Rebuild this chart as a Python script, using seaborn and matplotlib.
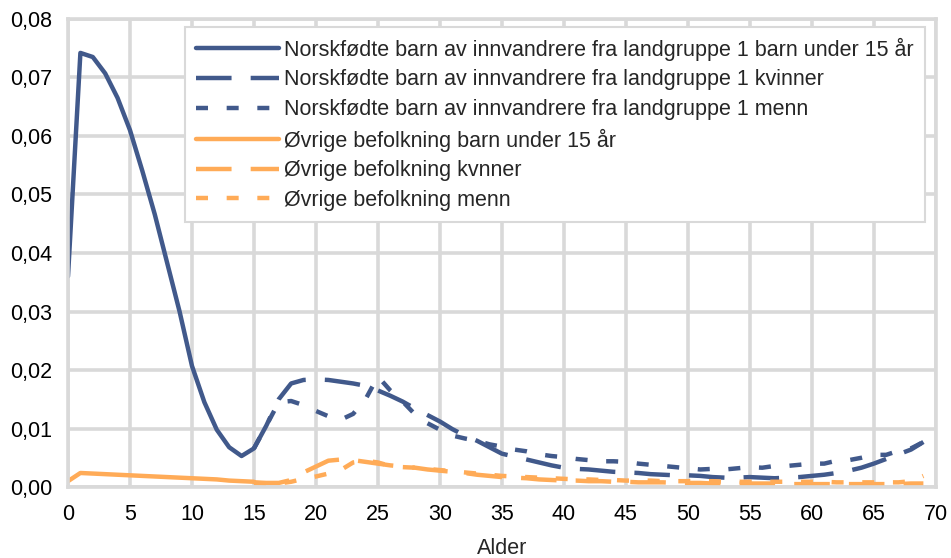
import seaborn as sns
import matplotlib
matplotlib.use("Agg")
import matplotlib.pyplot as plt
from matplotlib.ticker import FuncFormatter, MultipleLocator
import pandas as pd

# ages
alder_barn = list(range(0, 16))
alder_voksen = list(range(15, 70))

# Norskfødte barn av innvandrere fra landgruppe 1
blaa_barn = [0.0360, 0.0742, 0.0735, 0.0707, 0.0665, 0.0610, 0.0540, 0.0466, 0.0383, 0.0300,
             0.0207, 0.0145, 0.0098, 0.0068, 0.0053, 0.0066]
blaa_kvinner = [0.0066, 0.0105, 0.0150, 0.0177, 0.0183, 0.0184, 0.0183, 0.0180, 0.0177, 0.0173,
                0.0165, 0.0156, 0.0146, 0.0134, 0.0123, 0.0112, 0.0099, 0.0088, 0.0079, 0.0068,
                0.0057, 0.0052, 0.0047, 0.0042, 0.0037, 0.0033, 0.0031, 0.0030, 0.0028, 0.0026,
                0.0025, 0.0024, 0.0022, 0.0021, 0.0020, 0.0020, 0.0019, 0.0017, 0.0016, 0.0016,
                0.0017, 0.0016, 0.0015, 0.0016, 0.0017, 0.0019, 0.0021, 0.0024, 0.0028, 0.0033,
                0.0040, 0.0048, 0.0056, 0.0064, 0.0077]
blaa_menn = [0.0066, 0.0105, 0.0145, 0.0147, 0.0140, 0.0130, 0.0121, 0.0115, 0.0125, 0.0150,
             0.0189, 0.0165, 0.0146, 0.0124, 0.0109, 0.0098, 0.0088, 0.0083, 0.0079, 0.0073,
             0.0069, 0.0064, 0.0061, 0.0056, 0.0053, 0.0051, 0.0048, 0.0046, 0.0044, 0.0044,
             0.0043, 0.0040, 0.0038, 0.0036, 0.0034, 0.0032, 0.0030, 0.0031, 0.0030, 0.0032,
             0.0034, 0.0033, 0.0036, 0.0036, 0.0038, 0.0040, 0.0040, 0.0045, 0.0046, 0.0050,
             0.0055, 0.0055, 0.0062, 0.0066, 0.0077]

# Øvrige befolkning
oransje_barn = [0.0010, 0.0024, 0.0023, 0.0022, 0.0021, 0.0020, 0.0019, 0.0018, 0.0017, 0.0016,
                0.0015, 0.0014, 0.0013, 0.0011, 0.0010, 0.0009]
oransje_kvinner = [0.0008, 0.0007, 0.0007, 0.0012, 0.0025, 0.0035, 0.0045, 0.0047, 0.0046, 0.0043,
                   0.0040, 0.0037, 0.0035, 0.0033, 0.0030, 0.0028, 0.0026, 0.0024, 0.0021, 0.0019,
                   0.0017, 0.0016, 0.0015, 0.0013, 0.0012, 0.0011, 0.0011, 0.0010, 0.0010, 0.0009,
                   0.0009, 0.0008, 0.0008, 0.0008, 0.0007, 0.0007, 0.0007, 0.0006, 0.0006, 0.0006,
                   0.0006, 0.0006, 0.0006, 0.0005, 0.0005, 0.0005, 0.0005, 0.0005, 0.0005, 0.0005,
                   0.0005, 0.0005, 0.0005, 0.0006, 0.0006]
oransje_menn = [0.0007, 0.0006, 0.0006, 0.0009, 0.0014, 0.0018, 0.0023, 0.0029, 0.0042, 0.0045,
                0.0042, 0.0036, 0.0034, 0.0033, 0.0031, 0.0029, 0.0027, 0.0025, 0.0023, 0.0021,
                0.0019, 0.0018, 0.0017, 0.0016, 0.0015, 0.0014, 0.0013, 0.0013, 0.0012, 0.0012,
                0.0011, 0.0011, 0.0011, 0.0010, 0.0010, 0.0010, 0.0010, 0.0010, 0.0009, 0.0009,
                0.0009, 0.0009, 0.0009, 0.0009, 0.0009, 0.0009, 0.0009, 0.0008, 0.0008, 0.0008,
                0.0008, 0.0008, 0.0008, 0.0010, 0.0019]

labels = ["Norskfødte barn av innvandrere fra landgruppe 1 barn under 15 år",
          "Norskfødte barn av innvandrere fra landgruppe 1 kvinner",
          "Norskfødte barn av innvandrere fra landgruppe 1 menn",
          "Øvrige befolkning barn under 15 år",
          "Øvrige befolkning kvnner",
          "Øvrige befolkning menn"]

blue = "#41598B"
orange = "#FFAB57"

# long table for seaborn
parts = []
for lab, xs, ys in zip(labels,
                       [alder_barn, alder_voksen, alder_voksen, alder_barn, alder_voksen, alder_voksen],
                       [blaa_barn, blaa_kvinner, blaa_menn, oransje_barn, oransje_kvinner, oransje_menn]):
    parts.append(pd.DataFrame({"Alder": xs, "Andel": ys, "serie": lab}))
df = pd.concat(parts, ignore_index=True)

palette = {labels[0]: blue, labels[1]: blue, labels[2]: blue,
           labels[3]: orange, labels[4]: orange, labels[5]: orange}
dashes = {labels[0]: "", labels[1]: (8, 4.3), labels[2]: (2.7, 4.2),
          labels[3]: "", labels[4]: (8, 4.3), labels[5]: (2.7, 4.2)}

sns.set_style("white")
plt.rcParams["font.family"] = ["Liberation Sans", "DejaVu Sans"]

fig = plt.figure(figsize=(9.51, 5.58), dpi=100)
ax = fig.add_axes([0.0715, 0.1272, 0.9125, 0.8388])

sns.lineplot(data=df, x="Alder", y="Andel", hue="serie", style="serie", hue_order=labels,
             style_order=labels, palette=palette, dashes=dashes, linewidth=3.2, ax=ax,
             estimator=None, sort=False)

ax.set_xlim(0, 70)
ax.set_ylim(0, 0.08)
ax.xaxis.set_major_locator(MultipleLocator(5))
ax.yaxis.set_major_locator(MultipleLocator(0.01))
ax.yaxis.set_major_formatter(FuncFormatter(lambda v, p: f"{v:.2f}".replace(".", ",")))
ax.grid(True, color="#d9d9d9", linewidth=2.6)
ax.set_axisbelow(True)
for s in ax.spines.values():
    s.set_color("#d9d9d9")
    s.set_linewidth(2.6)
ax.tick_params(length=0, labelsize=15.5, colors="black")
ax.tick_params(axis="x", pad=12.5)
ax.tick_params(axis="y", pad=11.5)
ax.set_xlabel("Alder", fontsize=15.5, labelpad=9)
ax.set_ylabel("")

sns.move_legend(ax, "upper right", bbox_to_anchor=(0.987, 0.983), borderaxespad=0,
                title=None, frameon=True, fontsize=15.5, handlelength=3.85, labelspacing=0.4,
                handletextpad=0.25, borderpad=0.5, fancybox=False, framealpha=1,
                edgecolor="#d9d9d9")
leg = ax.get_legend()
leg.get_frame().set_linewidth(1.5)
for h in leg.legend_handles:
    h.set_linewidth(3.2)

fig.savefig("out.png", dpi=100)
